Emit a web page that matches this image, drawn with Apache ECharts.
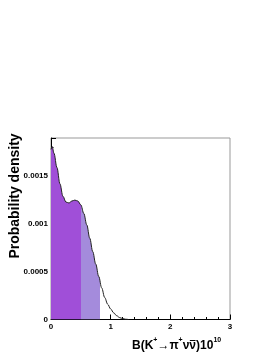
<!DOCTYPE html>
<html><head><meta charset="utf-8">
<script src="https://cdn.jsdelivr.net/npm/echarts@6/dist/echarts.min.js"></script>
<style>html,body{margin:0;padding:0;background:#fff;}#c{width:276px;height:357px;}</style>
</head><body><div id="c"></div>
<script>
// Data
const xs = [0.0, 0.02, 0.05, 0.10, 0.15, 0.20, 0.25, 0.30, 0.35, 0.40, 0.45, 0.50, 0.55, 0.60, 0.65, 0.70, 0.75, 0.80, 0.85, 0.90, 0.95, 1.00, 1.05, 1.10, 1.15, 1.20, 1.25, 1.30];
const density = [0.00178, 0.00181, 0.00174, 0.00159, 0.00142, 0.00129, 0.00123, 0.00122, 0.00124, 0.00125, 0.00124, 0.00120, 0.00111, 0.00099, 0.00085, 0.00071, 0.00058, 0.00045, 0.00033, 0.00023, 0.00016, 0.00011, 0.00007, 0.00004, 0.00002, 0.00001, 0.000003, 0.0];
const bands = [0.5, 0.82]; // shaded interval boundaries
const xTicks = [0, 1, 2, 3];
const yTicks = [0, 0.0005, 0.001, 0.0015];
const yTitle = 'Probability density';
const xTitleParts = [['m', 'B(K'], ['s', '+'], ['m', '→π'], ['s', '+'], ['m', 'νν'], ['m', ')10'], ['s', '10']];

const pts = xs.map((x, i) => [x, density[i]]);
const font = 'Liberation Sans, Arial, Helvetica, sans-serif';
const mSize = 12, sSize = 7;

// measure title widths to place the overline over the second ν
const cv = document.createElement('canvas').getContext('2d');
function w(kind, s) { cv.font = 'bold ' + (kind === 'm' ? mSize : sSize) + 'px ' + font; return cv.measureText(s).width; }
let pre = 0;
for (let i = 0; i < 4; i++) pre += w(xTitleParts[i][0], xTitleParts[i][1]);
pre += w('m', 'ν');
const nuW = w('m', 'ν');
const tx = 132, ty = 337;

const chart = echarts.init(document.getElementById('c'), null, {renderer: 'canvas'});
chart.setOption({
  animation: false,
  backgroundColor: '#fff',
  grid: {left: 51, right: 46, top: 138, bottom: 37.5, show: true, borderColor: '#999', borderWidth: 1, backgroundColor: 'transparent'},
  xAxis: {
    type: 'value', min: 0, max: 3, interval: 1,
    axisLine: {lineStyle: {color: '#000', width: 1}},
    axisTick: {inside: true, length: 5, lineStyle: {color: '#000'}},
    minorTick: {show: true, splitNumber: 5, length: 2.5, lineStyle: {color: '#000'}},
    splitLine: {show: false},
    axisLabel: {color: '#000', fontFamily: font, fontWeight: 'bold', fontSize: 8, margin: 3,
      formatter: v => xTicks.includes(v) ? String(v) : ''}
  },
  yAxis: {
    type: 'value', min: 0, max: 0.0019, interval: 0.0005,
    axisLine: {show: true, lineStyle: {color: '#000', width: 1}},
    axisTick: {inside: true, length: 5, lineStyle: {color: '#000'}},
    minorTick: {show: true, splitNumber: 5, length: 2.5, lineStyle: {color: '#000'}},
    splitLine: {show: false},
    axisLabel: {color: '#000', fontFamily: font, fontWeight: 'bold', fontSize: 8, margin: 3, showMaxLabel: false,
      formatter: v => { const t = yTicks.find(k => Math.abs(k - v) < 1e-9); return t === undefined ? '' : String(t); }}
  },
  visualMap: {
    show: false, type: 'piecewise', seriesIndex: 0, dimension: 0,
    pieces: [
      {lte: bands[0], color: '#a04fd8'},
      {gt: bands[0], lte: bands[1], color: '#a48bdc'},
      {gt: bands[1], color: 'rgba(255,255,255,0)'}
    ]
  },
  series: [
    {type: 'line', data: pts, smooth: 0.35, smoothMonotone: 'x', showSymbol: false,
      lineStyle: {width: 0, opacity: 0}, areaStyle: {opacity: 1}, z: 1},
    {type: 'line', data: pts, smooth: 0.35, smoothMonotone: 'x', showSymbol: false,
      lineStyle: {width: 1, color: '#222'}, z: 3}
  ],
  graphic: [
    {type: 'text', x: 15, y: 196, rotation: Math.PI / 2,
      style: {text: yTitle, font: 'bold 14px ' + font, fill: '#000', align: 'center', verticalAlign: 'middle'}},
    {type: 'text', x: tx, y: ty,
      style: {
        text: xTitleParts.map(p => '{' + p[0] + '|' + p[1] + '}').join(''),
        rich: {
          m: {fontFamily: font, fontWeight: 'bold', fontSize: mSize, fill: '#000', lineHeight: 15, verticalAlign: 'bottom'},
          s: {fontFamily: font, fontWeight: 'bold', fontSize: sSize, fill: '#000', lineHeight: 8, verticalAlign: 'top'}
        }
      }},
    {type: 'line', shape: {x1: tx + pre + 0.5, y1: ty + 3.5, x2: tx + pre + nuW - 0.5, y2: ty + 3.5},
      style: {stroke: '#000', lineWidth: 1}}
  ]
});
</script></body></html>
